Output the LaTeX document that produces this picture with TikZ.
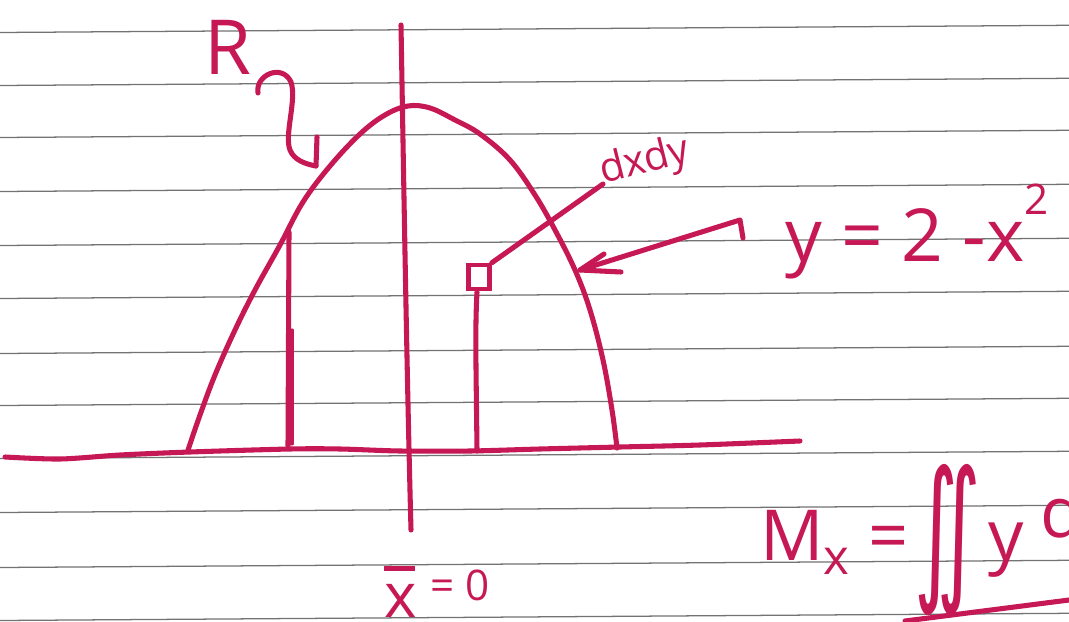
\documentclass[tikz,border=0pt]{standalone}
\usepackage{fontspec}
\setmainfont{Open Sans}
\newfontfamily\symfont{DejaVu Sans}
\definecolor{ink}{RGB}{198,24,84}
\definecolor{rulegray}{RGB}{115,115,115}
\begin{document}
\begin{tikzpicture}[x=0.025cm,y=-0.025cm,
  pen/.style={draw=ink,line width=3.6pt,line cap=round,line join=round},
  ruling/.style={draw=rulegray,line width=0.9pt},
  hand/.style={text=ink,inner sep=0pt},
  sqbox/.style={draw=ink,line width=3.2pt,minimum width=0.53cm,minimum height=0.6cm,inner sep=0pt}]
\useasboundingbox (0,0) rectangle (1069,622);
\clip (0,0) rectangle (1069,622);
\fill[white] (0,0) rectangle (1069,622);
% ruled paper
\foreach \yy in {32,85,137,191,245,298,353,405,458,512,567,620}{
  \draw[ruling] (0,\yy+0.5) -- (1069,\yy-6.7);
}
% vertical axis
\draw[pen] (401,25) .. controls (404,200) and (407,380) .. (411,530);
% horizontal axis
\draw[pen] plot[smooth] coordinates {(5,457) (60,459) (120,455) (190,452) (290,449) (340,449) (400,451) (470,451) (540,449) (620,447) (700,445) (800,441)};
% curve y = 2 - x^2
\draw[pen] plot[smooth,tension=0.6] coordinates {(188,450) (200,415) (215,375) (235,330) (255,290) (280,245) (303,202) (330,166) (360,134) (385,115) (408,106) (430,108) (455,120) (480,134) (510,160) (535,195) (555,230) (575,270) (590,310) (603,360) (612,410) (617,448)};
% left strip
\coordinate (lefttop) at (289,232);
\coordinate (leftfoot) at (288,446);
\draw[pen] (lefttop) -- (leftfoot);
\draw[pen,line width=2.2pt] (292,330) -- (292,444);
% element dxdy
\node[sqbox] (sq) at (479,277) {};
\coordinate (rightfoot) at (477,451);
\draw[pen] (477,292) .. controls (475,330) and (476,360) .. (rightfoot);
\node[hand,rotate=14,anchor=base west,font=\fontsize{29}{29}\selectfont] (dxdy) at (603,184) {dxdy};
\draw[pen] (sq.north east) -- (dxdy.base west);
% R label with squiggly arrow
\node[hand,font=\fontsize{54}{54}\selectfont] (R) at (228,47) {R};
\coordinate (Rstart) at (258,93);
\coordinate (Rtip) at (316,166);
\draw[pen] (Rstart) .. controls (255,75) and (282,63) .. (291,82) .. controls (297,100) and (284,135) .. (290,150) .. controls (294,160) and (305,164) .. (Rtip);
\draw[pen] (317,137) -- (Rtip);
% arrow to the curve
\coordinate (ytail) at (743,238);
\coordinate (ybend) at (740,220);
\coordinate (ytip) at (580,270);
\draw[pen] (ytail) -- (ybend) -- (ytip);
\draw[pen] (604,254) -- (ytip) -- (621,272);
\node[hand,anchor=base west,font=\fontsize{52}{52}\selectfont] (yeq) at (785,262) {y = 2 -x\raisebox{0.65em}{\fontsize{30}{30}\selectfont 2}};
% x-bar = 0
\node[hand,anchor=base west,font=\fontsize{44}{44}\selectfont] (xb) at (384,617) {\makebox[0pt][l]{\raisebox{0.75em}{\rule{0.5em}{0.08em}}}x};
\node[hand,anchor=base west,font=\fontsize{30}{30}\selectfont] (eq0) at (430,600) {= 0};
% moment
\node[hand,anchor=base west,font=\fontsize{50}{50}\selectfont] (Mx) at (760,560) {M\textsubscript{x} =};
\node[hand,font=\symfont\fontsize{60}{60}\selectfont,yscale=1.85] (int) at (948,540) {∬};
\node[hand,anchor=base west,font=\fontsize{50}{50}\selectfont] (yv) at (988,560) {y};
\node[hand,anchor=base west,font=\fontsize{50}{50}\selectfont] (dv) at (1040,537) {d};
\coordinate (ul1) at (905,621);
\coordinate (ul2) at (1069,600);
\draw[pen] (ul1) -- (ul2);
\end{tikzpicture}
\end{document}
